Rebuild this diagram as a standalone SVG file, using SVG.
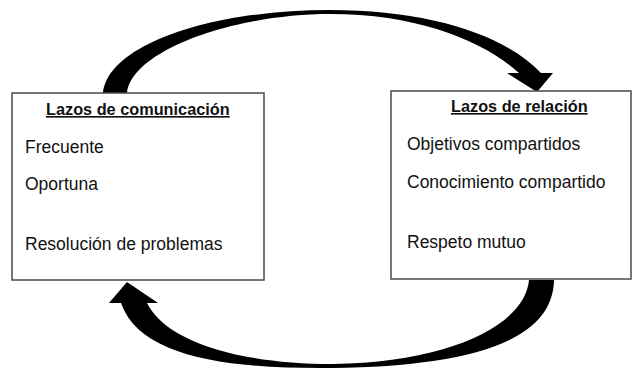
<svg xmlns="http://www.w3.org/2000/svg" width="633" height="369" viewBox="0 0 633 369">
<style>
.box{fill:#fff;stroke:#4a4a4a;stroke-width:1.5}
.t{font-family:"Liberation Sans",Arial,sans-serif;font-size:17.5px;fill:#111}
.h{font-family:"Liberation Sans",Arial,sans-serif;font-size:16.3px;font-weight:bold;fill:#111;text-decoration:underline}
.arr{fill:#000;stroke:none}
</style>
<rect width="633" height="369" fill="#fff"/>
<g id="connectors">
<path class="arr" d="M103,93 C108,45 210,10 330,10 C430,10 505,35 541,73 L553,73 L537,92 L507,73 L519,73 C485,42 420,14 330,14 C235,14 132,50 127,93 Z"/>
<path class="arr" d="M554,280 C553,345 460,366 333,368 C230,369 140,358 121,303 L109,303 L127,282 L158,303 L147,303 C165,340 235,364 333,364 C450,362 525,325 529,280 Z"/>
</g>
<g id="lazos-comunicacion">
<rect class="box" x="12" y="93" width="252" height="187"/>
<text class="h" x="46" y="115">Lazos de comunicación</text>
<text class="t" x="25" y="153">Frecuente</text>
<text class="t" x="25" y="190">Oportuna</text>
<text class="t" x="25" y="250">Resolución de problemas</text>
</g>
<g id="lazos-relacion">
<rect class="box" x="391" y="91" width="240" height="188"/>
<text class="h" x="451" y="112">Lazos de relación</text>
<text class="t" x="407" y="150">Objetivos compartidos</text>
<text class="t" x="407" y="188">Conocimiento compartido</text>
<text class="t" x="407" y="248">Respeto mutuo</text>
</g>
</svg>
